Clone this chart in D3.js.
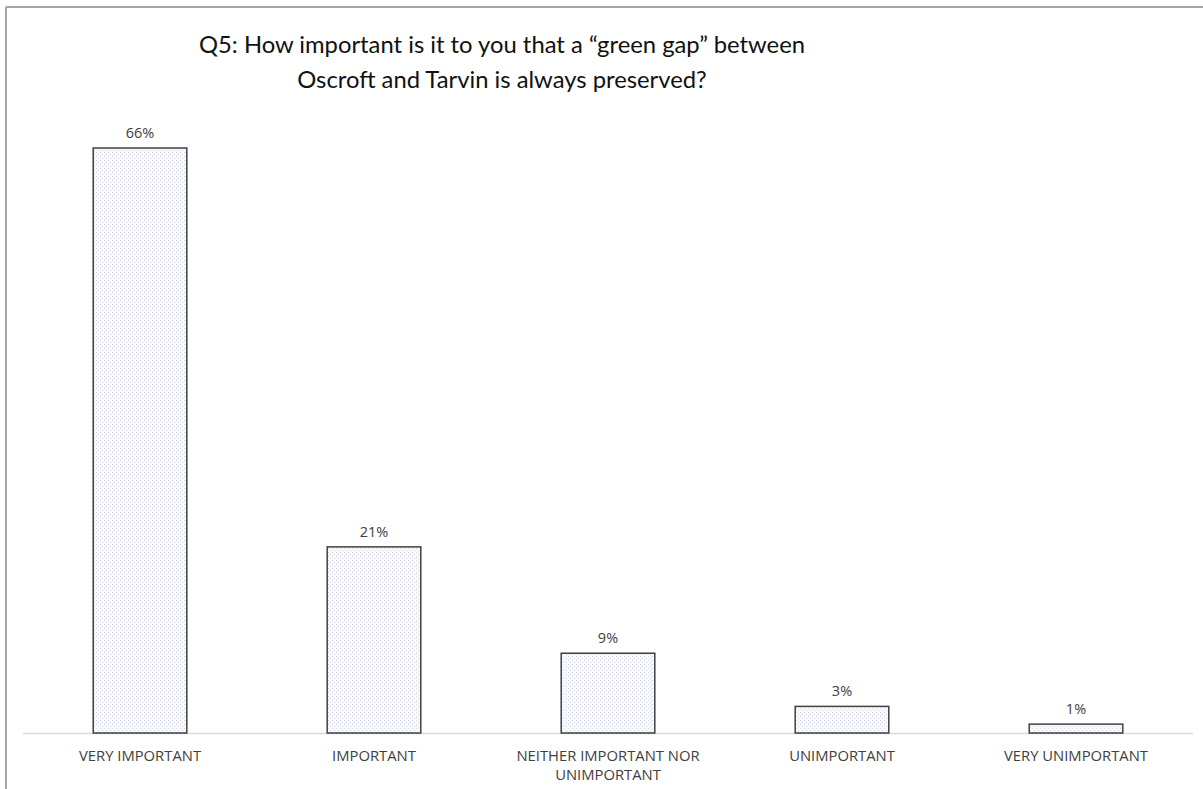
<!DOCTYPE html>
<html>
<head>
<meta charset="utf-8">
<script src="https://cdn.jsdelivr.net/npm/d3@7"></script>
<style>
  html, body { margin: 0; padding: 0; background: #fff; }
  svg { display: block; }
</style>
</head>
<body>
<svg id="chart" width="1203" height="789"></svg>
<script>
const categories = [
  ["VERY IMPORTANT"],
  ["IMPORTANT"],
  ["NEITHER IMPORTANT NOR", "UNIMPORTANT"],
  ["UNIMPORTANT"],
  ["VERY UNIMPORTANT"]
];
const values = [66, 21, 9, 3, 1];
const valueLabels = ["66%", "21%", "9%", "3%", "1%"];
const titleLines = [
  "Q5: How important is it to you that a \u201cgreen gap\u201d between",
  "Oscroft and Tarvin is always preserved?"
];

const svg = d3.select("#chart");
const W = 1203, H = 789;

// frame (top and left border)
svg.append("line").attr("x1", 6).attr("x2", W).attr("y1", 7).attr("y2", 7)
  .attr("stroke", "#a6a6a6").attr("stroke-width", 2);
svg.append("line").attr("x1", 6).attr("x2", 6).attr("y1", 7).attr("y2", H)
  .attr("stroke", "#a6a6a6").attr("stroke-width", 2);

// pattern
const defs = svg.append("defs");
const pat = defs.append("pattern").attr("id", "dots")
  .attr("patternUnits", "userSpaceOnUse").attr("width", 4).attr("height", 4);
pat.append("rect").attr("width", 4).attr("height", 4).attr("fill", "#f8f9fc");
pat.append("rect").attr("x", 0).attr("y", 0).attr("width", 1).attr("height", 1).attr("fill", "#d3d7e2");
pat.append("rect").attr("x", 2).attr("y", 2).attr("width", 1).attr("height", 1).attr("fill", "#d3d7e2");

const plotLeft = 23, plotRight = 1193, baseY = 733, topY = 148;

const x = d3.scaleBand()
  .domain(d3.range(categories.length))
  .range([plotLeft, plotRight])
  .paddingInner(0.6).paddingOuter(0.3);

const y = d3.scaleLinear()
  .domain([0, 66])
  .range([baseY, topY]);

// baseline
svg.append("line").attr("x1", plotLeft).attr("x2", plotRight)
  .attr("y1", baseY + 0.5).attr("y2", baseY + 0.5)
  .attr("stroke", "#d9d9d9").attr("stroke-width", 1.5);

// bars
svg.append("g").selectAll("rect").data(values).join("rect")
  .attr("x", (d, i) => x(i))
  .attr("y", d => y(d))
  .attr("width", x.bandwidth())
  .attr("height", d => baseY - y(d))
  .attr("fill", "url(#dots)")
  .attr("stroke", "#404040")
  .attr("stroke-width", 1.5);

// value labels
svg.append("g").selectAll("text").data(values).join("text")
  .attr("x", (d, i) => x(i) + x.bandwidth() / 2)
  .attr("y", d => y(d) - 10)
  .attr("text-anchor", "middle")
  .attr("font-family", "'Open Sans', sans-serif")
  .attr("font-size", 14.5)
  .attr("fill", "#404040")
  .text((d, i) => valueLabels[i]);

// category labels
const catG = svg.append("g");
categories.forEach((lines, i) => {
  const t = catG.append("text")
    .attr("x", x(i) + x.bandwidth() / 2)
    .attr("y", 761)
    .attr("text-anchor", "middle")
    .attr("font-family", "'Open Sans', sans-serif")
    .attr("font-size", 14.8)
    .attr("fill", "#404040");
  lines.forEach((ln, j) => {
    t.append("tspan").attr("x", x(i) + x.bandwidth() / 2)
      .attr("dy", j === 0 ? 0 : 19).text(ln);
  });
});

// title
const title = svg.append("text")
  .attr("x", 502)
  .attr("y", 53)
  .attr("text-anchor", "middle")
  .attr("font-family", "Lato, 'Open Sans', sans-serif")
  .attr("font-size", 23.8)
  .attr("fill", "#111");
titleLines.forEach((ln, j) => {
  title.append("tspan").attr("x", 502).attr("dy", j === 0 ? 0 : 35).text(ln);
});
</script>
</body>
</html>
